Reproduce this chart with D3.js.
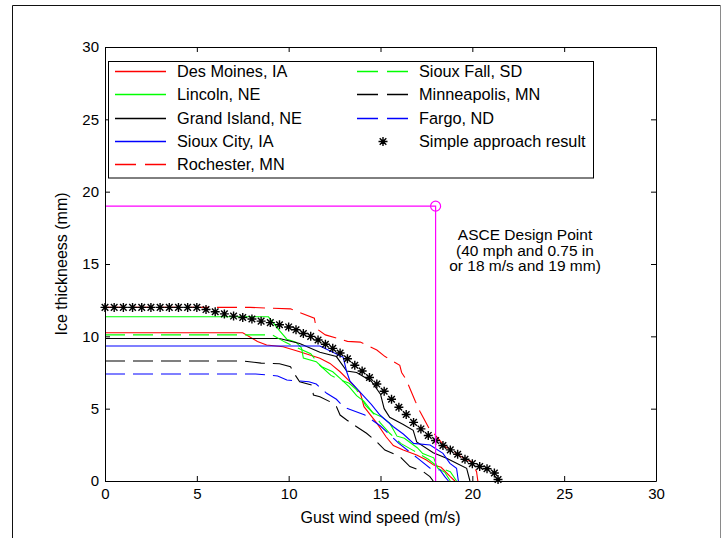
<!DOCTYPE html>
<html>
<head>
<meta charset="utf-8">
<script src="https://cdn.jsdelivr.net/npm/d3@7"></script>
<style>
  body { margin: 0; background: #fff; }
  svg text { font-family: "Liberation Sans", Arial, sans-serif; fill: #000; }
</style>
</head>
<body>
<div id="chart"></div>
<script>
//----------------------------DATA------------------------------//
// [gust wind speed (m/s), ice thickness (mm)]
const desMoines = [[0,10.25],[7.5,10.25],[8.3,9.65],[8.8,9.4],[9.7,9.28],[10.6,8.94],[11.7,8.48],
  [12.25,8.13],[12.8,7.55],[13.35,6.86],[13.9,6.1],[14.1,5.14],[14.8,4.0],[15.3,3.06],[15.7,2.45],
  [16.24,2.14],[16.97,1.8],[17.5,1.45],[17.9,1.1],[18.3,0.95],[18.8,0.3],[19.05,0]];
const lincoln = [[0,11.35],[8.9,11.35],[9.5,10.4],[9.9,9.8],[10.4,9.6],[10.7,9.2],[10.8,8.5],[11.5,8.25],
  [11.8,7.9],[12.4,7.55],[12.8,7.1],[13.3,6.5],[13.7,5.9],[14.1,5.5],[14.6,4.7],[15.1,4.4],[15.5,4.0],
  [15.9,3.1],[16.3,2.95],[17,2.3],[17.3,1.9],[17.9,1.6],[18.1,0.9],[18.5,0.6],[18.8,0]];
const grandIsland = [[0,9.85],[9.5,9.85],[10.6,9.5],[11.7,8.9],[12.6,8.6],[13.16,7.6],[13.7,7.5],
  [14.5,6.9],[15,6.0],[15.2,5.0],[15.5,4.4],[16.24,3.9],[16.78,3.5],[16.97,2.7],[17.87,1.95],
  [18.6,1.57],[19.14,1.22],[19.69,0.88],[19.87,0]];
const siouxCity = [[0,9.33],[11.7,9.33],[12.07,9.1],[12.97,8.55],[13.16,7.55],[13.34,6.9],[13.85,6.2],
  [14.5,5.3],[14.97,4.56],[15.7,3.75],[16.24,3.25],[16.8,2.6],[17.7,2.49],[18.4,1.91],[18.78,1.22],
  [19.14,0.88],[19.24,0]];
const rochester = [[0,12],[7.9,12],[10.1,11.9],[10.7,11.6],[11.4,11.25],[11.5,10.55],[12,10.1],
  [13.2,9.65],[13.9,9.6],[14.8,9.05],[15.25,8.6],[16.05,8.0],[16.15,7.5],[16.4,7.0],[16.9,5.5],
  [17.15,4.8],[17.7,3.5],[17.9,3.3],[18.5,2.4],[19.5,1.6],[19.96,1.33],[20.23,0.64],[20.3,0]];
const siouxFall = [[0,10.1],[9.1,10.1],[9.8,9.6],[10.5,9.2],[11.2,8.8],[11.7,8.0],[12.3,7.3],[12.8,7.0],
  [13.3,6.75],[13.7,6.3],[14.2,5.2],[14.6,4.7],[15.0,4.0],[15.5,3.3],[16.1,2.6],[16.8,2.1],[17.6,1.5],
  [18.1,1.0],[18.8,0.64],[19.14,0]];
const minneapolis = [[0,8.3],[7.5,8.3],[8.5,8.15],[9.5,8.1],[10.1,7.9],[10.35,7.33],[10.6,6.86],
  [11.25,6.64],[11.35,5.94],[11.7,5.83],[12.25,5.48],[12.6,5.14],[12.8,4.56],[13.16,4.22],[13.7,3.75],
  [14.24,3.3],[14.79,2.72],[15.24,2.14],[16.06,1.68],[16.6,1.0],[17.33,0.64],[17.69,0.3],[17.87,0]];
const fargo = [[0,7.4],[8.2,7.4],[9.4,7.26],[9.9,6.98],[11.1,6.86],[11.5,6.7],[12.07,6.06],[12.6,5.65],
  [13.0,5.1],[14.15,4.56],[15,3.8],[16,2.6],[17,1.6],[17.7,0.88],[18.24,0.76],[18.5,0.3],[18.7,0]];

const simpleWind = [0,0.5,1,1.5,2,2.5,3,3.5,4,4.5,5,5.5,6,6.5,7,7.5,8,8.5,9,9.5,10,10.4,10.8,11.2,11.6,
  12,12.4,12.8,13.2,13.6,14,14.4,14.8,15.2,15.6,16,16.4,16.8,17.2,17.6,18,18.4,18.8,19.2,19.6,20,20.4,
  20.8,21.2,21.4];
const simpleIce = [12,12,12,12,12,12,12,12,12,12,12,11.85,11.7,11.55,11.4,11.3,11.2,11.05,10.95,10.8,
  10.65,10.45,10.2,10.0,9.75,9.45,9.17,8.85,8.45,8.0,7.6,7.15,6.7,6.2,5.65,5.1,4.6,4.05,3.6,3.15,2.8,
  2.45,2.15,1.85,1.5,1.2,1.0,0.85,0.55,0.1];

const stationNames = ["Des Moines, IA", "Lincoln, NE", "Grand Island, NE", "Sioux City, IA",
  "Rochester, MN", "Sioux Fall, SD", "Minneapolis, MN", "Fargo, ND"];
const stationSeries = [desMoines, lincoln, grandIsland, siouxCity, rochester, siouxFall, minneapolis, fargo];
const simpleName = "Simple approach result";

const designPoint = [18, 19];
const designText = ["ASCE Design Point", "(40 mph and 0.75 in", "or 18 m/s and 19 mm)"];

const speedTicks = [0, 5, 10, 15, 20, 25, 30];
const thicknessTicks = [0, 5, 10, 15, 20, 25, 30];

//----------------------------STYLE-----------------------------//
const colors = ["#ff0000", "#00ff00", "#000000", "#0000ff", "#ff0000", "#00ff00", "#000000", "#0000ff"];
const dashes = [null, null, null, null, "20,8", "20,8", "20,8", "20,8"];

//-----------------------------SVG------------------------------//
const width = 728, height = 538;
const plotLeft = 105, plotRight = 656, plotTop = 47, plotBottom = 481;

const svg = d3.select("#chart").append("svg")
  .attr("width", width)
  .attr("height", height);

// figure frame
svg.append("line").attr("x1", 12.5).attr("x2", 12.5).attr("y1", 5.5).attr("y2", height)
  .attr("stroke", "#111");
svg.append("line").attr("x1", 12.5).attr("x2", 720.5).attr("y1", 5.5).attr("y2", 5.5)
  .attr("stroke", "#111");
svg.append("line").attr("x1", 720.5).attr("x2", 720.5).attr("y1", 5.5).attr("y2", height)
  .attr("stroke", "#8a8a8a");

//----------------------------SCALES----------------------------//
const x = d3.scaleLinear().domain([0, 30]).range([plotLeft, plotRight]);
const y = d3.scaleLinear().domain([0, 30]).range([plotBottom, plotTop]);

//----------------------------LINES-----------------------------//
const line = d3.line()
  .x(d => x(d[0]))
  .y(d => y(d[1]));

const plot = svg.append("g");

plot.selectAll(".station")
  .data(stationSeries)
  .enter().append("path")
  .attr("class", "station")
  .attr("d", d => line(d))
  .attr("fill", "none")
  .attr("stroke", (d, i) => colors[i])
  .attr("stroke-width", 1.1)
  .attr("stroke-dasharray", (d, i) => dashes[i]);

const starPath = "M-4.5,0H4.5M0,-4.5V4.5M-3.3,-3.3L3.3,3.3M-3.3,3.3L3.3,-3.3";

plot.selectAll(".star")
  .data(simpleWind.map((w, i) => [w, simpleIce[i]]))
  .enter().append("path")
  .attr("class", "star")
  .attr("transform", d => `translate(${x(d[0])},${y(d[1])})`)
  .attr("d", starPath)
  .attr("fill", "none")
  .attr("stroke", "#000")
  .attr("stroke-width", 1.4);

// design point
const magenta = "#ff00ff";
plot.append("path")
  .attr("d", d3.line()([[x(0), y(designPoint[1])], [x(designPoint[0]), y(designPoint[1])],
    [x(designPoint[0]), y(0)]]))
  .attr("fill", "none")
  .attr("stroke", magenta)
  .attr("stroke-width", 1.2);
plot.append("circle")
  .attr("cx", x(designPoint[0]))
  .attr("cy", y(designPoint[1]))
  .attr("r", 5)
  .attr("fill", "none")
  .attr("stroke", magenta)
  .attr("stroke-width", 1.2);

svg.append("g").selectAll("text")
  .data(designText)
  .enter().append("text")
  .attr("x", 525)
  .attr("y", (d, i) => 240 + i * 15.5)
  .attr("text-anchor", "middle")
  .style("font-size", "15.5px")
  .text(d => d);

//-----------------------------AXES-----------------------------//
const fontSize = "15px";
const xAxis = d3.axisBottom(x).tickValues(speedTicks).tickSize(-5).tickPadding(7).tickSizeOuter(0);
const yAxis = d3.axisLeft(y).tickValues(thicknessTicks).tickSize(-5).tickPadding(6).tickSizeOuter(0);
const xTop = d3.axisTop(x).tickValues(speedTicks).tickSize(-5).tickFormat("").tickSizeOuter(0);
const yRight = d3.axisRight(y).tickValues(thicknessTicks).tickSize(-5).tickFormat("").tickSizeOuter(0);

[[xAxis, `translate(0,${plotBottom})`], [yAxis, `translate(${plotLeft},0)`],
 [xTop, `translate(0,${plotTop})`], [yRight, `translate(${plotRight},0)`]].forEach(([ax, tr]) => {
  const g = svg.append("g").attr("class", "axis").attr("transform", tr).call(ax);
  g.attr("font-family", null).attr("font-size", null);
  g.selectAll("text").style("font-size", fontSize).attr("fill", "#000");
  g.selectAll(".tick line").attr("stroke", "#000");
  g.select(".domain").attr("stroke", "#000");
});

svg.append("text")
  .attr("x", (plotLeft + plotRight) / 2)
  .attr("y", 523)
  .attr("text-anchor", "middle")
  .style("font-size", "16px")
  .text("Gust wind speed (m/s)");

svg.append("text")
  .attr("transform", `translate(67,${(plotTop + plotBottom) / 2}) rotate(-90)`)
  .attr("text-anchor", "middle")
  .style("font-size", "16px")
  .text("Ice thickneess (mm)");

//----------------------------LEGEND----------------------------//
const legend = svg.append("g").attr("class", "legend");
legend.append("rect")
  .attr("x", 108.5).attr("y", 61.5)
  .attr("width", 485).attr("height", 116.5)
  .attr("fill", "#fff")
  .attr("stroke", "#000");

const legendEntries = stationNames.map((n, i) => ({ name: n, i: i })).concat([{ name: simpleName, i: 8 }]);
const rowH = 23.3;

const items = legend.selectAll(".item")
  .data(legendEntries)
  .enter().append("g")
  .attr("class", "item")
  .attr("transform", d => {
    const col = d.i < 5 ? 0 : 1;
    const row = d.i < 5 ? d.i : d.i - 5;
    return `translate(${col === 0 ? 115 : 357},${Math.round(71 + row * rowH) + 0.5})`;
  });

items.filter(d => d.i < 8).append("path")
  .attr("d", "M0,0H51")
  .attr("fill", "none")
  .style("stroke", d => colors[d.i])
  .style("stroke-width", 1.5)
  .style("stroke-dasharray", d => dashes[d.i] ? "21,9" : "none");

items.filter(d => d.i === 8).append("path")
  .attr("transform", "translate(26,0)")
  .attr("d", starPath)
  .attr("fill", "none")
  .attr("stroke", "#000")
  .attr("stroke-width", 1.4);

items.append("text")
  .attr("x", 62)
  .attr("dy", "0.36em")
  .style("font-size", "16.3px")
  .text(d => d.name);
</script>
</body>
</html>
